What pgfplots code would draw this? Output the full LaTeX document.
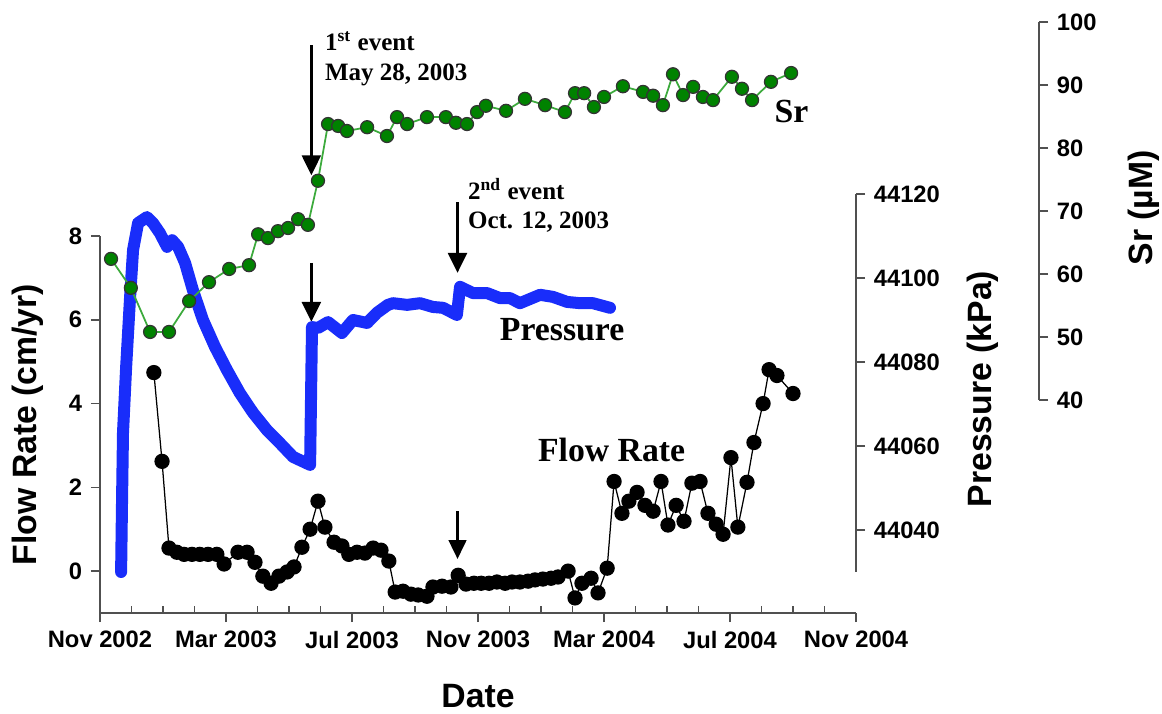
\documentclass[border=0pt]{standalone}
\usepackage{pgfplots}
\pgfplotsset{compat=1.18}
\usepackage{fontspec}
\setmainfont{Liberation Serif}
\newfontfamily\arial{Liberation Sans}
\usetikzlibrary{arrows.meta}

\definecolor{srgreen}{RGB}{0,130,0}
\definecolor{srline}{RGB}{60,170,60}
\definecolor{presblue}{RGB}{25,45,250}
\definecolor{axgray}{RGB}{80,80,80}

% months since 1 Nov 2002 on x; 1px of the reference = 0.4pt
\pgfplotsset{
  base/.style={
    scale only axis, clip=false,
    axis line style={axgray, line width=0.6pt},
    tick style={axgray, line width=0.6pt},
    tick align=outside,
    major tick length=3.6pt,
    ticklabel style={font=\arial\bfseries\fontsize{9.5}{11}\selectfont},
    label style={font=\arial\bfseries\fontsize{13.5}{16}\selectfont},
    /pgf/number format/assume math mode=true,
    /pgf/number format/1000 sep={},
    scaled ticks=false,
  },
}

\begin{document}
\begin{tikzpicture}
\useasboundingbox (-40pt,-40.4pt) rectangle (424.8pt,245.2pt);

% flow rate (left axis, owns the date axis)
\begin{axis}[base,
  at={(0,0)}, anchor=south west,
  width=302.4pt, height=150.8pt,
  xmin=0, xmax=24, ymin=-1, ymax=8,
  axis x line*=bottom, axis y line*=left,
  xtick={0,4,...,24},
  xticklabels={Nov 2002,Mar 2003,Jul 2003,Nov 2003,Mar 2004,Jul 2004,Nov 2004},
  minor x tick num=3,
  minor tick length=2.6pt,
  minor x tick style={yshift=2.6pt},
  ytick={0,2,4,6,8},
  xlabel={Date}, ylabel={Flow Rate (cm/yr)},
  xlabel style={at={(axis description cs:0.5,-0.22)}, anchor=center},
  ylabel style={at={(axis description cs:-0.095,0.5)}, anchor=center},
]
\addplot[black, line width=0.5pt, mark=*, mark size=2.8pt, mark options={fill=black}]
  coordinates {
    (1.71,4.74)(1.97,2.62)(2.19,0.55)(2.44,0.45)(2.67,0.40)(2.92,0.40)
    (3.17,0.40)(3.43,0.40)(3.71,0.40)(3.94,0.17)(4.38,0.45)(4.67,0.45)
    (4.92,0.21)(5.17,-0.12)(5.43,-0.29)(5.68,-0.12)(5.94,-0.02)(6.16,0.10)
    (6.41,0.57)(6.67,1.00)(6.92,1.67)(7.14,1.05)(7.43,0.69)(7.68,0.60)
    (7.90,0.40)(8.16,0.45)(8.41,0.43)(8.67,0.55)(8.92,0.50)(9.17,0.24)
    (9.37,-0.50)(9.62,-0.48)(9.87,-0.55)(10.10,-0.57)(10.38,-0.60)(10.57,-0.38)
    (10.86,-0.36)(11.14,-0.38)(11.37,-0.10)(11.62,-0.31)(11.87,-0.29)(12.10,-0.29)
    (12.35,-0.29)(12.60,-0.26)(12.86,-0.29)(13.08,-0.26)(13.33,-0.26)(13.59,-0.24)
    (13.81,-0.21)(14.06,-0.19)(14.32,-0.17)(14.54,-0.14)(14.86,0.00)(15.08,-0.64)
    (15.30,-0.29)(15.59,-0.17)(15.81,-0.52)(16.10,0.07)(16.32,2.14)(16.57,1.38)
    (16.79,1.67)(17.05,1.88)(17.30,1.57)(17.56,1.43)(17.81,2.14)(18.03,1.10)
    (18.29,1.57)(18.54,1.19)(18.79,2.10)(19.05,2.14)(19.30,1.38)(19.56,1.12)
    (19.78,0.88)(20.03,2.71)(20.25,1.05)(20.54,2.12)(20.76,3.07)(21.05,4.00)
    (21.24,4.81)(21.49,4.67)(22.00,4.24)
  };
% event arrows
\draw[line width=1.3pt, -{Triangle[width=7.5pt,length=8pt]}] (axis cs:6.71,12.55) -- (axis cs:6.71,9.45);
\draw[line width=1.3pt, -{Triangle[width=7.5pt,length=8pt]}] (axis cs:6.71,7.36) -- (axis cs:6.71,5.95);
\draw[line width=1.3pt, -{Triangle[width=7.5pt,length=8pt]}] (axis cs:11.35,8.81) -- (axis cs:11.35,7.12);
\draw[line width=1pt, -{Triangle[width=7pt,length=7.5pt]}] (axis cs:11.35,1.43) -- (axis cs:11.35,0.29);
% annotations
\node[anchor=base west, font=\bfseries\fontsize{10}{12}\selectfont, inner sep=0pt] at (axis cs:7.13,12.42) {1\textsuperscript{st} event};
\node[anchor=base west, font=\bfseries\fontsize{10}{12}\selectfont, inner sep=0pt] at (axis cs:7.13,11.72) {May 28, 2003};
\node[anchor=base west, font=\bfseries\fontsize{10}{12}\selectfont, inner sep=0pt] at (axis cs:11.67,8.88) {2\textsuperscript{nd} event};
\node[anchor=base west, font=\bfseries\fontsize{10}{12}\selectfont, inner sep=0pt] at (axis cs:11.67,8.17) {Oct. 12, 2003};
\node[anchor=base west, font=\bfseries\fontsize{13.5}{16}\selectfont, inner sep=0pt] at (axis cs:12.68,5.50) {Pressure};
\node[anchor=base west, font=\bfseries\fontsize{13.5}{16}\selectfont, inner sep=0pt] at (axis cs:13.89,2.62) {Flow Rate};
\node[anchor=base west, font=\bfseries\fontsize{13.5}{16}\selectfont, inner sep=0pt] at (axis cs:21.40,10.71) {Sr};
\end{axis}

% pressure (inner right axis)
\begin{axis}[base,
  at={(0,16.4pt)}, anchor=south west,
  width=302.4pt, height=151.2pt,
  xmin=0, xmax=24, ymin=44030, ymax=44120,
  axis x line=none, axis y line*=right,
  ytick={44040,44060,...,44120},
  ylabel={Pressure (kPa)},
  ylabel style={at={(axis description cs:1.168,0.484)}, anchor=center},
]
\addplot[presblue, line width=4.8pt, line cap=round, line join=round]
  coordinates {
    (0.67,44030.0)(0.70,44047.1)(0.73,44063.1)(0.83,44078.8)(0.95,44094.8)
    (1.05,44106.7)(1.21,44113.1)(1.49,44114.5)(1.68,44113.1)(1.90,44110.7)
    (2.13,44107.4)(2.29,44109.0)(2.48,44107.4)(2.70,44103.6)(2.95,44097.1)
    (3.27,44090.0)(3.65,44083.6)(4.03,44078.1)(4.44,44072.6)(4.86,44067.9)
    (5.30,44063.8)(5.71,44060.7)(6.13,44057.4)(6.67,44055.5)(6.73,44088.3)
    (6.92,44088.1)(7.24,44089.5)(7.68,44086.9)(8.03,44090.0)(8.48,44089.3)
    (8.79,44091.7)(9.14,44093.6)(9.30,44094.0)(9.75,44093.6)(10.16,44094.0)
    (10.57,44093.1)(10.89,44092.9)(11.33,44091.2)(11.43,44097.9)(11.84,44096.4)
    (12.29,44096.4)(12.70,44095.2)(13.02,44095.2)(13.33,44094.0)(13.97,44096.0)
    (14.38,44095.5)(14.83,44094.3)(15.24,44094.0)(15.65,44094.0)(16.19,44092.9)
  };
\end{axis}

% Sr (outer right axis)
\begin{axis}[base,
  at={(0,85.2pt)}, anchor=south west,
  width=375.6pt, height=151.2pt,
  xmin=0, xmax=29.81, ymin=40, ymax=100,
  axis x line=none, axis y line*=right,
  ytick={40,50,...,100},
  ylabel={Sr (µM)},
  ylabel style={at={(axis description cs:1.112,0.508)}, anchor=center},
]
\addplot[srline, line width=0.7pt, mark=*, mark size=2.6pt,
  mark options={fill=srgreen, draw=black!80, line width=0.5pt}]
  coordinates {
    (0.35,62.4)(0.98,57.8)(1.59,50.8)(2.19,50.8)(2.83,55.7)(3.46,58.7)
    (4.10,60.8)(4.73,61.4)(5.02,66.3)(5.33,65.7)(5.65,66.8)(5.97,67.3)
    (6.29,68.7)(6.60,67.8)(6.92,74.8)(7.24,83.8)(7.56,83.5)(7.84,82.7)
    (8.48,83.3)(9.11,81.9)(9.43,84.9)(9.75,83.8)(10.38,84.9)(10.98,84.9)
    (11.30,84.0)(11.65,83.8)(11.97,85.7)(12.25,86.7)(12.89,85.9)(13.49,87.8)
    (14.13,86.8)(14.76,85.7)(15.08,88.7)(15.37,88.7)(15.68,86.5)(16.00,88.1)
    (16.60,89.8)(17.24,88.9)(17.56,88.3)(17.87,86.8)(18.19,91.7)(18.51,88.4)
    (18.83,89.7)(19.14,88.1)(19.46,87.6)(20.06,91.3)(20.38,89.4)(20.70,87.6)
    (21.30,90.5)(21.94,91.9)
  };
\end{axis}
\end{tikzpicture}
\end{document}
